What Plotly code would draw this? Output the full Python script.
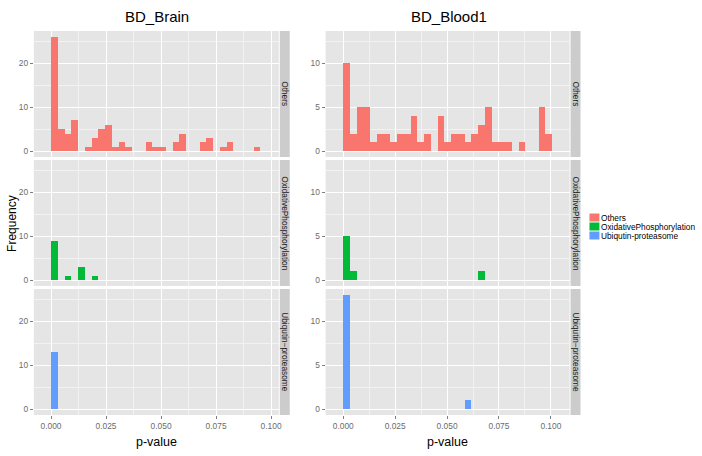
import plotly.graph_objects as go

# ---------------- data (histogram counts per bin) ----------------
categories = ["Others", "OxidativePhosphorylation", "Ubiqutin-proteasome"]
facet_labels = ["Others", "OxidativePhosphorylation", "Ubiqutin\u2212proteasome"]
colors = ["#F8766D", "#00BA38", "#619CFF"]
titles = ["BD_Brain", "BD_Blood1"]

brain_bin_start = 0.0
brain_bin_width = 0.003066
brain_others = [26, 5, 4, 7, 0, 1, 3, 5, 6, 1, 2, 1, 0, 0, 2, 1, 1, 0, 2, 4, 0, 0, 2, 3, 0, 1, 2, 0, 0, 0, 1]
brain_oxphos = [9, 0, 1, 0, 3, 0, 1]
brain_ubiq = [13]

blood_bin_start = -0.0002
blood_bin_width = 0.003247
blood_others = [10, 2, 5, 5, 1, 2, 2, 1, 2, 2, 4, 1, 2, 0, 4, 1, 2, 2, 1, 2, 3, 5, 1, 1, 1, 0, 1, 0, 0, 5, 2]
blood_oxphos = [5, 1, 0, 0, 0, 0, 0, 0, 0, 0, 0, 0, 0, 0, 0, 0, 0, 0, 0, 0, 1]
blood_ubiq = [13, 0, 0, 0, 0, 0, 0, 0, 0, 0, 0, 0, 0, 0, 0, 0, 0, 0, 1]

x_ticks = [0.0, 0.025, 0.05, 0.075, 0.1]
brain_y_ticks = [0, 10, 20]
blood_y_ticks = [0, 5, 10]

# ---------------- layout geometry (pixels) ----------------
W, H = 702, 456
col_px = [(34, 280), (327, 572)]
strip_px = [(281, 291), (573, 583)]
row_px = [(31, 157), (160, 286), (289, 415)]
x_ranges = [[-0.0078, 0.1035], [-0.0085, 0.109]]
y_ranges = [[-1.3, 27.3], [-0.65, 13.65]]
y_ticks = [brain_y_ticks, blood_y_ticks]
y_minor = [5, 2.5]

panel_data = [
    [brain_others, brain_oxphos, brain_ubiq],
    [blood_others, blood_oxphos, blood_ubiq],
]
bin_starts = [brain_bin_start, blood_bin_start]
bin_widths = [brain_bin_width, blood_bin_width]

FONT = "Liberation Sans, Arial, sans-serif"


def fx(p):
    return p / W


def fy(p):
    return 1 - p / H


fig = go.Figure()
layout = {}
shapes = []
annotations = []

tick_font = dict(family=FONT, size=8.4, color="#6B6B6B")

for c in range(2):
    for r in range(3):
        k = r * 2 + c + 1
        xa = "x" if k == 1 else f"x{k}"
        ya = "y" if k == 1 else f"y{k}"
        counts = panel_data[c][r]
        w = bin_widths[c]
        xs = [bin_starts[c] + (i + 0.5) * w for i in range(len(counts))]
        fig.add_trace(go.Bar(
            x=xs, y=counts, width=w, marker=dict(color=colors[r], line=dict(width=0)),
            name=categories[r], showlegend=False, xaxis=xa, yaxis=ya,
            hovertemplate="p=%{x:.4f}<br>n=%{y}<extra>" + categories[r] + "</extra>",
        ))
        bottom = r == 2
        layout["xaxis" if k == 1 else f"xaxis{k}"] = dict(
            domain=[fx(col_px[c][0]), fx(col_px[c][1])], anchor=ya, range=x_ranges[c],
            tickvals=x_ticks, tickformat=".3f", showticklabels=bottom,
            ticks="outside" if bottom else "", ticklen=3, tickcolor="#7F7F7F", tickwidth=1,
            tickfont=tick_font, showgrid=True, gridcolor="white", gridwidth=1.1,
            minor=dict(dtick=0.0125, tick0=0, showgrid=True, gridcolor="#F2F2F2", gridwidth=0.6),
            zeroline=False, showline=False, fixedrange=True,
        )
        layout["yaxis" if k == 1 else f"yaxis{k}"] = dict(
            domain=[fy(row_px[r][1]), fy(row_px[r][0])], anchor=xa, range=y_ranges[c],
            tickvals=y_ticks[c], ticks="outside", ticklen=3, tickcolor="#7F7F7F", tickwidth=1,
            tickfont=tick_font, showgrid=True, gridcolor="white", gridwidth=1.1,
            minor=dict(dtick=y_minor[c], tick0=0, showgrid=True, gridcolor="#F2F2F2", gridwidth=0.6),
            zeroline=False, showline=False, fixedrange=True,
        )
        # facet strip
        shapes.append(dict(type="rect", xref="paper", yref="paper",
                           x0=fx(strip_px[c][0]), x1=fx(strip_px[c][1]),
                           y0=fy(row_px[r][1]), y1=fy(row_px[r][0]),
                           fillcolor="#CCCCCC", line=dict(width=0), layer="below"))
        annotations.append(dict(xref="paper", yref="paper",
                                x=fx((strip_px[c][0] + strip_px[c][1]) / 2),
                                y=fy((row_px[r][0] + row_px[r][1]) / 2),
                                text=facet_labels[r], textangle=90, showarrow=False,
                                font=dict(family=FONT, size=8.3, color="#1A1A1A"),
                                xanchor="center", yanchor="middle"))
    # column title
    annotations.append(dict(xref="paper", yref="paper",
                            x=fx((col_px[c][0] + col_px[c][1]) / 2 + 1), y=fy(17),
                            text=titles[c], showarrow=False,
                            font=dict(family=FONT, size=15, color="black"),
                            xanchor="center", yanchor="middle"))
    # x-axis title
    annotations.append(dict(xref="paper", yref="paper",
                            x=fx((col_px[c][0] + col_px[c][1]) / 2), y=fy(442),
                            text="p-value", showarrow=False,
                            font=dict(family=FONT, size=12.5, color="black"),
                            xanchor="center", yanchor="middle"))

# y-axis title
annotations.append(dict(xref="paper", yref="paper", x=fx(12), y=fy(223),
                        text="Frequency", textangle=-90, showarrow=False,
                        font=dict(family=FONT, size=12, color="black"),
                        xanchor="center", yanchor="middle"))

# legend (keys + labels)
key_x0, key_x1 = 592, 602
key_top = 213
key_h = 9
for i, (lab, col) in enumerate(zip(categories, colors)):
    y0 = key_top + i * key_h
    shapes.append(dict(type="rect", xref="paper", yref="paper",
                       x0=fx(key_x0), x1=fx(key_x1), y0=fy(y0 + key_h - 0.5), y1=fy(y0 + 0.5),
                       fillcolor=col, line=dict(width=0)))
    annotations.append(dict(xref="paper", yref="paper", x=fx(602), y=fy(y0 + key_h / 2),
                            text=lab, showarrow=False, xanchor="left", yanchor="middle",
                            font=dict(family=FONT, size=8.3, color="black")))

fig.update_layout(
    width=W, height=H, margin=dict(l=0, r=0, t=0, b=0), autosize=False,
    paper_bgcolor="white", plot_bgcolor="#E5E5E5",
    barmode="overlay", bargap=0, showlegend=False,
    shapes=shapes, annotations=annotations,
    **layout,
)

fig.write_html(
    "out.html",
    config={"displayModeBar": False},
    post_script="document.body.style.margin='0px';document.body.style.overflow='hidden';",
)
